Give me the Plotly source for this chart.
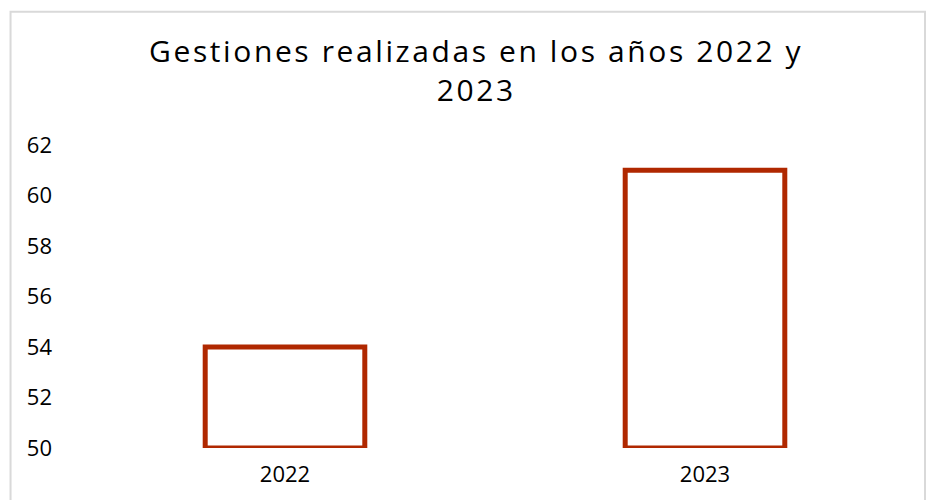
import plotly.graph_objects as go

categories = ["2022", "2023"]
values = [54, 61]
y_ticks = [50, 52, 54, 56, 58, 60, 62]
title_text = "Gestiones realizadas en los años 2022 y<br>2023"
axis_base = 50

W, H = 930, 500
ml, mr, mt, mb = 74.5, 15, 145, 48
pw = W - ml - mr
ph = H - mt - mb

fig = go.Figure(go.Bar(
    x=categories, y=[v - axis_base for v in values], base=axis_base,
    marker=dict(color="white", line=dict(color="#B02800", width=5)),
    width=0.38,
))

fig.update_layout(
    width=W, height=H,
    margin=dict(l=ml, r=mr, t=mt, b=mb),
    paper_bgcolor="white", plot_bgcolor="white",
    font=dict(family="Open Sans, Noto Sans, sans-serif", color="#000000"),
    title=dict(text=title_text, x=0.512, xanchor="center", xref="container",
               y=0.876, yanchor="top", yref="container",
               font=dict(size=30, color="#000000")),
    showlegend=False,
    shapes=[dict(type="rect", xref="paper", yref="paper",
                 x0=(10 - ml) / pw, x1=(925 - ml) / pw,
                 y0=(H - mb - 520) / ph, y1=(H - mb - 10) / ph,
                 line=dict(color="#D9D9D9", width=2), fillcolor="rgba(0,0,0,0)", layer="below")],
)
fig.update_xaxes(type="category", range=[-0.5, 1.5], showgrid=False, showline=False,
                 zeroline=False, ticks="", tickfont=dict(size=22), ticklabelstandoff=11)
fig.update_yaxes(range=[50, 62], tickvals=y_ticks, showgrid=False, showline=False,
                 zeroline=False, ticks="", tickfont=dict(size=22), ticklabelstandoff=22)

post = """
document.body.style.margin = '0';
document.querySelectorAll('.gtitle').forEach(function(e){ e.style.letterSpacing = '2.6px'; });
"""
fig.write_html("out.html", post_script=post, config={"displayModeBar": False})
